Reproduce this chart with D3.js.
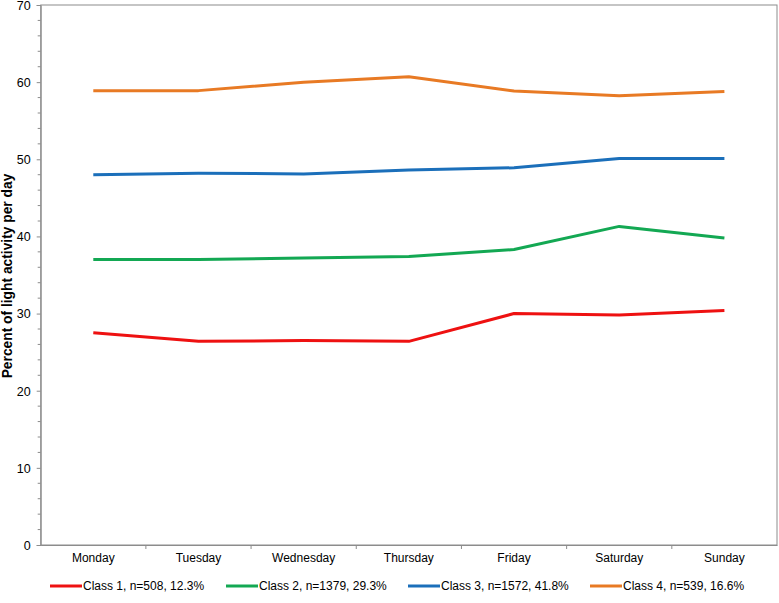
<!DOCTYPE html>
<html><head><meta charset="utf-8">
<script src="https://cdn.jsdelivr.net/npm/d3@7"></script>
<style>body{margin:0;background:#fff}svg{display:block;font-family:"Liberation Sans",Arial,sans-serif}</style>
</head><body><svg id="c" width="779" height="603"></svg>
<script>
const days = ["Monday","Tuesday","Wednesday","Thursday","Friday","Saturday","Sunday"];
const class1 = [27.5,26.4,26.5,26.4,30.0,29.8,30.4];
const class2 = [37.0,37.0,37.2,37.4,38.3,41.3,39.8];
const class3 = [48.0,48.2,48.1,48.6,48.9,50.1,50.1];
const class4 = [58.9,58.9,60.0,60.7,58.85,58.25,58.8];
const seriesNames = ["Class 1, n=508, 12.3%","Class 2, n=1379, 29.3%","Class 3, n=1572, 41.8%","Class 4, n=539, 16.6%"];
const seriesColors = ["#ee1111","#13a853","#1b6fba","#e87a24"];
const yTicks = [0,10,20,30,40,50,60,70];
const yLabel = "Percent of light activity per day";

const series = [class1,class2,class3,class4].map((v,i)=>({name:seriesNames[i],color:seriesColors[i],values:v}));
const svg = d3.select("#c");
const L=40.7, R=777, T=5, B=545;
const x = d3.scaleBand().domain(days).range([L,R]);
const y = d3.scaleLinear().domain([0,70]).range([B,T]);
const axisCol = "#8c8c8c";

// frame
svg.append("rect").attr("x",L).attr("y",T).attr("width",R-L).attr("height",B-T)
  .attr("fill","none").attr("stroke",axisCol).attr("stroke-width",1);

// y axis
const ya = svg.append("g").attr("transform",`translate(${L},0)`)
  .call(d3.axisLeft(y).tickValues(yTicks).tickSize(4).tickPadding(6).tickFormat(d3.format("d")));
ya.select(".domain").attr("stroke",axisCol);
ya.selectAll(".tick line").attr("stroke",axisCol);
ya.selectAll("text").attr("font-size",12.5).attr("fill","#000").attr("dy","0.35em");
const minor = d3.range(0,71,2).filter(v=>v%10!==0);
svg.append("g").selectAll("line").data(minor).join("line")
  .attr("x1",L-3).attr("x2",L).attr("y1",d=>y(d)).attr("y2",d=>y(d)).attr("stroke",axisCol);

// x axis
const xa = svg.append("g").attr("transform",`translate(0,${B})`)
  .call(d3.axisBottom(x).tickSize(0).tickPadding(8));
xa.select(".domain").attr("stroke",axisCol);
xa.selectAll("text").attr("font-size",12).attr("fill","#000");
const bounds = days.slice(1).map(d=>x(d));
svg.append("g").selectAll("line").data(bounds).join("line")
  .attr("x1",d=>d).attr("x2",d=>d).attr("y1",B).attr("y2",B+4).attr("stroke",axisCol);

// y label
svg.append("text").attr("transform",`translate(12,276) rotate(-90)`)
  .attr("text-anchor","middle").attr("font-size",13.8).attr("font-weight","bold").text(yLabel);

// lines
const line = d3.line().x((d,i)=>x(days[i])+x.bandwidth()/2).y(d=>y(d));
svg.append("g").selectAll("path").data(series).join("path")
  .attr("d",d=>line(d.values)).attr("fill","none").attr("stroke",d=>d.color)
  .attr("stroke-width",3).attr("stroke-linejoin","round");

// legend
const legX = [50,226,408,590];
const lg = svg.append("g").selectAll("g").data(series).join("g")
  .attr("transform",(d,i)=>`translate(${legX[i]},586)`);
lg.append("line").attr("x1",0).attr("x2",32).attr("y1",0).attr("y2",0)
  .attr("stroke",d=>d.color).attr("stroke-width",3);
lg.append("text").attr("x",33).attr("y",0).attr("dy","0.35em").attr("font-size",12).text(d=>d.name);
</script></body></html>
